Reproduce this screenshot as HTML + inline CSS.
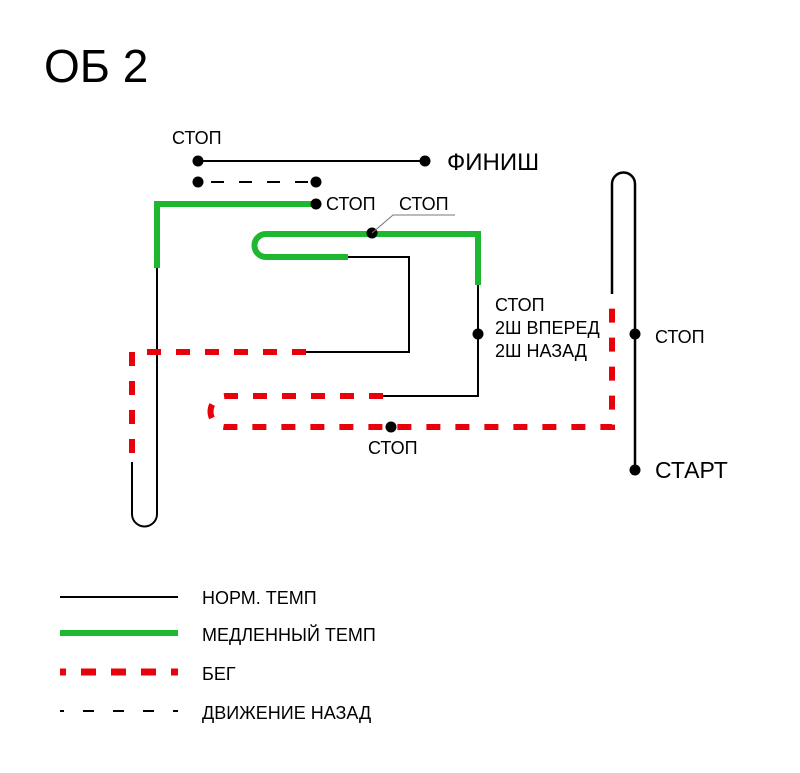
<!DOCTYPE html>
<html><head><meta charset="utf-8"><style>
html,body{margin:0;padding:0;background:#fff;}
svg{display:block;font-family:"Liberation Sans",sans-serif;}
</style></head><body>
<svg width="800" height="773" viewBox="0 0 800 773" xmlns="http://www.w3.org/2000/svg">
<rect width="800" height="773" fill="#fff"/>
<text x="44" y="82" font-size="46" fill="#000">ОБ 2</text>

<line x1="198" y1="161" x2="425" y2="161" stroke="#000" stroke-width="2"/>
<circle cx="198" cy="161" r="5.5"/><circle cx="425" cy="161" r="5.5"/>
<text x="172" y="144" font-size="18">СТОП</text>
<text x="447" y="170" font-size="24">ФИНИШ</text>
<line x1="198" y1="182" x2="316" y2="182" stroke="#000" stroke-width="2" stroke-dasharray="13,15" stroke-dashoffset="-13"/>
<circle cx="198" cy="182" r="5.5"/><circle cx="316" cy="182" r="5.5"/>

<path d="M157 268 V514 A12.5 12.5 0 0 1 132 514 V462" fill="none" stroke="#000" stroke-width="2"/>
<path d="M157 268 V204 H316" fill="none" stroke="#1db82f" stroke-width="6"/>
<circle cx="316" cy="204" r="5.5"/>
<text x="326" y="210" font-size="18">СТОП</text>

<path d="M348 257 H266 A11.5 11.5 0 0 1 266 234 H478 V285" fill="none" stroke="#1db82f" stroke-width="6"/>
<circle cx="372" cy="233" r="5.5"/>
<path d="M372 233 L393 215 H455" fill="none" stroke="#777" stroke-width="1"/>
<text x="399" y="210" font-size="18">СТОП</text>

<path d="M348 257 H409 V352 H306" fill="none" stroke="#000" stroke-width="2"/>
<path d="M306 352 H132 V462" fill="none" stroke="#e8000b" stroke-width="6" stroke-dasharray="14,15"/>

<path d="M478 285 V396 H383" fill="none" stroke="#000" stroke-width="2"/>
<circle cx="478" cy="334" r="5.5"/>
<text x="495" y="311" font-size="18">СТОП</text>
<text x="495" y="334" font-size="18">2Ш ВПЕРЕД</text>
<text x="495" y="357" font-size="18">2Ш НАЗАД</text>

<path d="M383 396 H226 A15.5 15.5 0 0 0 226 427 H612 V294" fill="none" stroke="#e8000b" stroke-width="6" stroke-dasharray="14,15"/>
<circle cx="391" cy="427" r="5.5"/>
<text x="368" y="454" font-size="18">СТОП</text>

<path d="M612 294 V184 A11.5 11.5 0 0 1 635 184 V470" fill="none" stroke="#000" stroke-width="2.5"/>
<circle cx="635" cy="334" r="5.5"/><circle cx="635" cy="470" r="5.5"/>
<text x="655" y="343" font-size="18">СТОП</text>
<text x="655" y="478" font-size="23">СТАРТ</text>

<line x1="60" y1="597" x2="178" y2="597" stroke="#000" stroke-width="2"/>
<text x="202" y="604" font-size="18">НОРМ. ТЕМП</text>
<line x1="60" y1="633" x2="178" y2="633" stroke="#1db82f" stroke-width="6"/>
<text x="202" y="641" font-size="18">МЕДЛЕННЫЙ ТЕМП</text>
<line x1="60" y1="672" x2="178" y2="672" stroke="#e8000b" stroke-width="7" stroke-dasharray="15,15" stroke-dashoffset="9"/>
<text x="202" y="680" font-size="18">БЕГ</text>
<line x1="60" y1="711" x2="178" y2="711" stroke="#000" stroke-width="2" stroke-dasharray="11,19" stroke-dashoffset="7"/>
<text x="202" y="719" font-size="18">ДВИЖЕНИЕ НАЗАД</text>
</svg>
</body></html>
